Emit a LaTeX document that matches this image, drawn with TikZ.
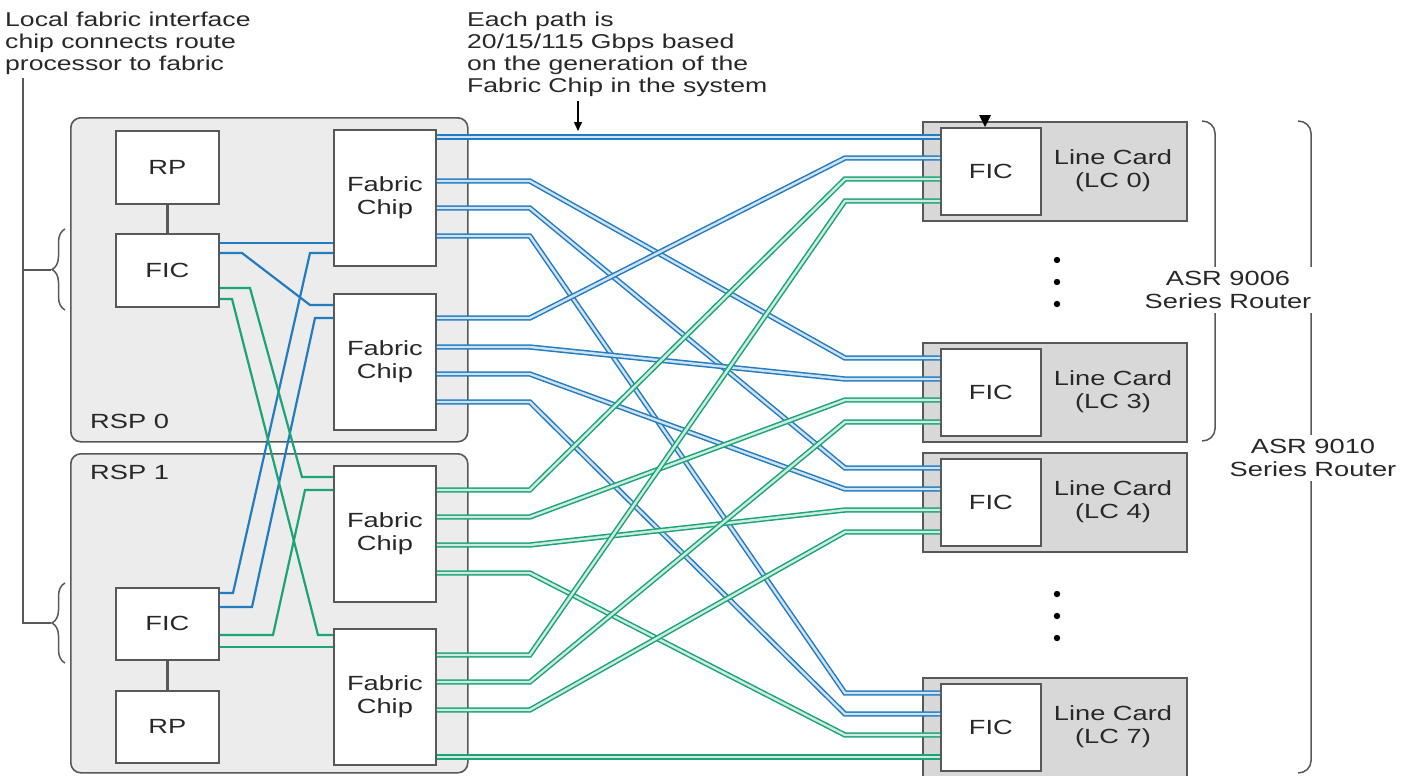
\documentclass[tikz,border=0pt]{standalone}
\usepackage{fontspec}
\setmainfont[FakeStretch=1.33]{Liberation Sans}
\usetikzlibrary{calc,arrows.meta,decorations.pathreplacing}
\definecolor{fabblue}{RGB}{36,124,192}
\definecolor{fabgreen}{RGB}{28,164,118}
\definecolor{boxgray}{RGB}{88,88,88}
\definecolor{textgray}{RGB}{40,40,40}
\definecolor{rspfill}{RGB}{236,236,236}
\definecolor{lcfill}{RGB}{216,216,216}
\tikzset{
  rspbox/.style={draw=boxgray, fill=rspfill, line width=1.6pt, rounded corners=10pt, anchor=north west, inner sep=0pt},
  chipbox/.style={draw=boxgray, fill=white, line width=1.8pt, anchor=north west, inner sep=0pt, align=center},
  lcbox/.style={draw=boxgray, fill=lcfill, line width=1.8pt, anchor=north west, inner sep=0pt},
  link/.style={draw=#1, double=#1!22, line width=1.5pt, double distance=2.4pt},
  wire/.style={draw=#1, line width=2.2pt},
  lbl/.style={font=\fontsize{20.5}{23}\selectfont, text=textgray, align=center, inner sep=0pt},
  note/.style={font=\fontsize{20}{22}\selectfont, text=textgray, align=left, inner sep=0pt, anchor=north west},
  bracket/.style={draw=boxgray, line width=1.5pt},
}
\begin{document}
\begin{tikzpicture}[x=1pt,y=-1pt]
\useasboundingbox (0,0) rectangle (1414,776);
% route switch processors
\node[rspbox, minimum width=397pt, minimum height=324pt] (rsp0) at (70,117) {};
\node[rspbox, minimum width=397pt, minimum height=319pt] (rsp1) at (70,453) {};
\node[lbl, anchor=base west] (rsp0name) at (90,428) {RSP 0};
\node[lbl, anchor=base west] (rsp1name) at (90,479) {RSP 1};
\node[chipbox, lbl, minimum width=103pt, minimum height=73pt] (rp0) at (115,130) {RP};
\node[chipbox, lbl, minimum width=103pt, minimum height=73pt] (fic0) at (115,233) {FIC};
\node[chipbox, lbl, minimum width=103pt, minimum height=72pt] (fic1) at (115,587) {FIC};
\node[chipbox, lbl, minimum width=103pt, minimum height=72pt] (rp1) at (115,690) {RP};
\foreach \n/\y in {0/129,1/293,2/465,3/628}{
    \node[chipbox, lbl, minimum width=102pt, minimum height=136pt] (fc\n) at (333,\y) {Fabric\\Chip};
};
% line cards
\foreach \n/\y in {0/121,3/342,4/452,7/677}{
    \node[lcbox, minimum width=264pt, minimum height=99pt] (lc\n) at (922,\y) {};
    \node[chipbox, lbl, minimum width=100pt, minimum height=87pt] (lfic\n) at (940,\y+6) {FIC};
    \node[lbl] (lcname\n) at (1113,\y+49.5) {Line Card\\(LC \n)};
};
\draw[boxgray, line width=3pt] (rp0) -- (fic0);
\draw[boxgray, line width=3pt] (fic1) -- (rp1);
%fic to fabric chip
\draw[wire=fabblue] (fic0.east |- 0,243) -- (fc0.west |- 0,243);
\draw[wire=fabblue] (fic0.east |- 0,253) -- (242,253) -- (310,305) -- (fc1.west |- 0,305);
\draw[wire=fabblue] (fic1.east |- 0,593) -- (233,593) -- (310,253) -- (fc0.west |- 0,253);
\draw[wire=fabblue] (fic1.east |- 0,607) -- (252,607) -- (315,318) -- (fc1.west |- 0,318);
\draw[wire=fabgreen] (fic0.east |- 0,288) -- (250,288) -- (302,477) -- (fc2.west |- 0,477);
\draw[wire=fabgreen] (fic0.east |- 0,299) -- (232,299) -- (318,635) -- (fc3.west |- 0,635);
\draw[wire=fabgreen] (fic1.east |- 0,635) -- (273,635) -- (305,490) -- (fc2.west |- 0,490);
\draw[wire=fabgreen] (fic1.east |- 0,647) -- (fc3.west |- 0,647);
%fabric chip to line card
\foreach \fc/\fy/\lc/\ly/\col in {fc0/137/0/137/fabblue, fc0/181/3/358/fabblue, fc0/208/4/468/fabblue, fc0/236/7/693/fabblue,
    fc1/318/0/158/fabblue, fc1/347/3/379/fabblue, fc1/374/4/489/fabblue, fc1/402/7/714/fabblue,
    fc2/490/0/179/fabgreen, fc2/517/3/400/fabgreen, fc2/545/4/510/fabgreen, fc2/573/7/735/fabgreen,
    fc3/655/0/201/fabgreen, fc3/682/3/422/fabgreen, fc3/710/4/532/fabgreen, fc3/757/7/757/fabgreen}{
    \draw[link=\col] (\fc.east |- 0,\fy) -- ++(93,0) -- ($(lfic\lc.west |- 0,\ly)+(-95,0)$) -- (lfic\lc.west |- 0,\ly);
};
\fill (979,115) -- (991,115) -- (985,127) -- cycle;
%add dots
\foreach \y in {260,282,304,594,616,638}{
    \fill (1057,\y) circle (3.2pt);
};
% notes
\node[note] (localnote) at (5,12) {Local fabric interface\\chip connects route\\processor to fabric};
\coordinate (noteroot) at (23,78);
\coordinate (bendA) at (23,270);
\coordinate (bendB) at (23,623);
\draw[bracket] (noteroot) -- (bendB) -- ++(28,0);
\draw[bracket] (bendA) -- ++(28,0);
\draw[bracket, decorate, decoration={brace, amplitude=13pt}] (65,310) -- (65,229);
\draw[bracket, decorate, decoration={brace, amplitude=13pt}] (65,663) -- (65,583);
\node[note] (pathnote) at (467,12) {Each path is\\20/15/115 Gbps based\\on the generation of the\\Fabric Chip in the system};
\coordinate (pathtip) at (578,131);
\draw[-{Triangle[length=9pt,width=8pt]}, line width=1.4pt] ([yshift=-4pt]pathnote.south -| pathtip) -- (pathtip);
% router brackets
\draw[bracket] (1202,121) to[out=0,in=90] (1215,133) -- (1215,429) to[out=-90,in=0] (1202,441);
\draw[bracket] (1298,121) to[out=0,in=90] (1311,133) -- (1311,761) to[out=-90,in=0] (1298,773);
\node[lbl, fill=white, inner sep=4pt] (asr9006) at (1228,290) {ASR 9006\\Series Router};
\node[lbl, fill=white, inner sep=4pt] (asr9010) at (1313,458) {ASR 9010\\Series Router};
\end{tikzpicture}
\end{document}
